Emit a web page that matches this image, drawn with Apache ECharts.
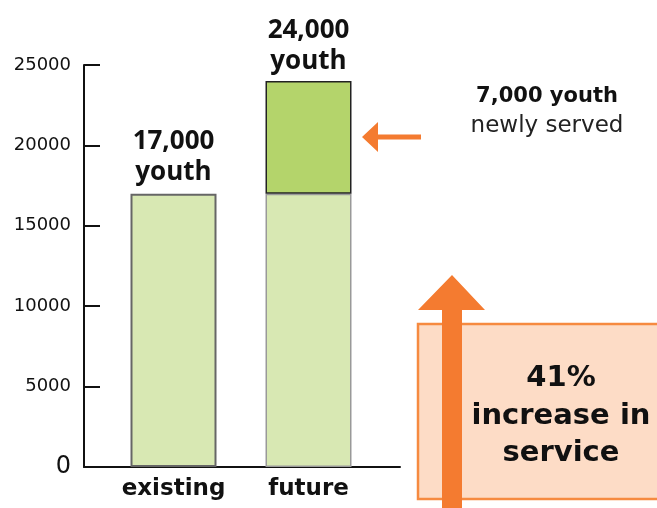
<!DOCTYPE html>
<html>
<head>
<meta charset="utf-8">
<script src="https://cdn.jsdelivr.net/npm/echarts@6/dist/echarts.min.js"></script>
<style>
  html, body { margin: 0; padding: 0; background: #fff; }
  #chart { width: 657px; height: 508px; }
</style>
</head>
<body>
<div id="chart"></div>
<script>
// Youth served: existing capacity vs. future capacity
const categories = ['existing', 'future'];
const baseServed = [17000, 17000];   // youth already served
const newlyServed = [null, 7000];    // additional youth served in the future
const yTicks = [0, 5000, 10000, 15000, 20000, 25000];
const increasePct = 41;

const fmt = v => v.toLocaleString('en-US');

const chart = echarts.init(document.getElementById('chart'), null, { renderer: 'canvas' });

const labelRich = {
  b: { fontFamily: 'Open Sans', fontWeight: 'bold', fontSize: 26, color: '#111', lineHeight: 31 }
};

chart.setOption({
  animation: false,
  grid: [
    { left: 84, right: 257, top: 65, bottom: 41 },
    { left: 106, right: 281, top: 65, bottom: 41 }
  ],
  xAxis: [
    {
      type: 'category', gridIndex: 0, data: categories,
      axisLine: { lineStyle: { color: '#111', width: 2 } },
      axisTick: { inside: true, length: 8, lineStyle: { color: '#111', width: 2 } },
      axisLabel: { show: false }
    },
    {
      type: 'category', gridIndex: 1, data: categories,
      axisLine: { show: false }, axisTick: { show: false },
      axisLabel: {
        margin: 11,
        fontFamily: 'DejaVu Sans', fontWeight: 'bold', fontSize: 23, color: '#111'
      }
    }
  ],
  yAxis: [
    {
      type: 'value', gridIndex: 0, min: yTicks[0], max: yTicks[yTicks.length - 1], interval: yTicks[1] - yTicks[0],
      splitLine: { show: false },
      axisLine: { show: true, lineStyle: { color: '#111', width: 2 } },
      axisTick: { show: true, inside: true, length: 16, lineStyle: { color: '#111', width: 2 } },
      axisLabel: {
        margin: 13,
        fontFamily: 'DejaVu Sans', fontSize: 18, color: '#111',
        formatter: v => Number(v) === 0 ? '{z|0}' : String(v),
        rich: { z: { fontFamily: 'DejaVu Sans', fontSize: 24, color: '#111' } }
      }
    },
    {
      type: 'value', gridIndex: 1, min: yTicks[0], max: yTicks[yTicks.length - 1], interval: yTicks[1] - yTicks[0],
      show: false
    }
  ],
  series: [
    {
      name: 'served', type: 'bar', stack: 'youth',
      xAxisIndex: 1, yAxisIndex: 1, barWidth: 86,
      data: baseServed.map((v, i) => ({
        value: v,
        itemStyle: i === 0
          ? { color: '#d8e8b3', borderColor: '#666', borderWidth: 2 }
          : { color: '#d8e8b3', borderColor: '#999', borderWidth: 1.5 },
        label: i === 0 ? { show: true } : { show: false }
      })),
      label: {
        position: 'top', distance: 6,
        formatter: p => '{b|' + fmt(p.value) + '}\n{b|youth}',
        rich: labelRich
      }
    },
    {
      name: 'newly served', type: 'bar', stack: 'youth',
      xAxisIndex: 1, yAxisIndex: 1, barWidth: 86,
      data: newlyServed,
      itemStyle: { color: '#b4d46b', borderColor: '#222', borderWidth: 1.5 },
      label: {
        show: true, position: 'top', distance: 4,
        formatter: p => '{b|' + fmt(baseServed[p.dataIndex] + p.value) + '}\n{b|youth}',
        rich: labelRich
      }
    }
  ],
  graphic: [
    // left-pointing arrow toward the new segment
    {
      type: 'polygon', z: 10,
      shape: { points: [[362, 137], [378, 122], [378, 134.5], [421, 134.5], [421, 139.5], [378, 139.5], [378, 152]] },
      style: { fill: '#f47b30' }
    },
    {
      type: 'text', z: 10, x: 547, y: 107,
      style: {
        text: fmt(newlyServed[1]) + ' youth',
        align: 'center', verticalAlign: 'bottom',
        fontFamily: 'DejaVu Sans', fontWeight: 'bold', fontSize: 21, fill: '#111'
      }
    },
    {
      type: 'text', z: 10, x: 547, y: 138,
      style: {
        text: 'newly served',
        align: 'center', verticalAlign: 'bottom',
        fontFamily: 'DejaVu Sans', fontSize: 23, fill: '#222'
      }
    },
    // increase box
    {
      type: 'rect', z: 10,
      shape: { x: 418, y: 324, width: 250, height: 175 },
      style: { fill: '#fddcc6', stroke: '#f68a40', lineWidth: 2.5 }
    },
    // upward arrow
    {
      type: 'polygon', z: 11,
      shape: { points: [[452, 275], [485, 310], [462, 310], [462, 510], [442, 510], [442, 310], [418, 310]] },
      style: { fill: '#f47b30' }
    },
    {
      type: 'text', z: 12, x: 561, y: 360,
      style: {
        text: increasePct + '%\nincrease in\nservice',
        align: 'center', verticalAlign: 'top',
        fontFamily: 'DejaVu Sans', fontWeight: 'bold', fontSize: 29, lineHeight: 37.5, fill: '#111'
      }
    }
  ]
});
</script>
</body>
</html>
